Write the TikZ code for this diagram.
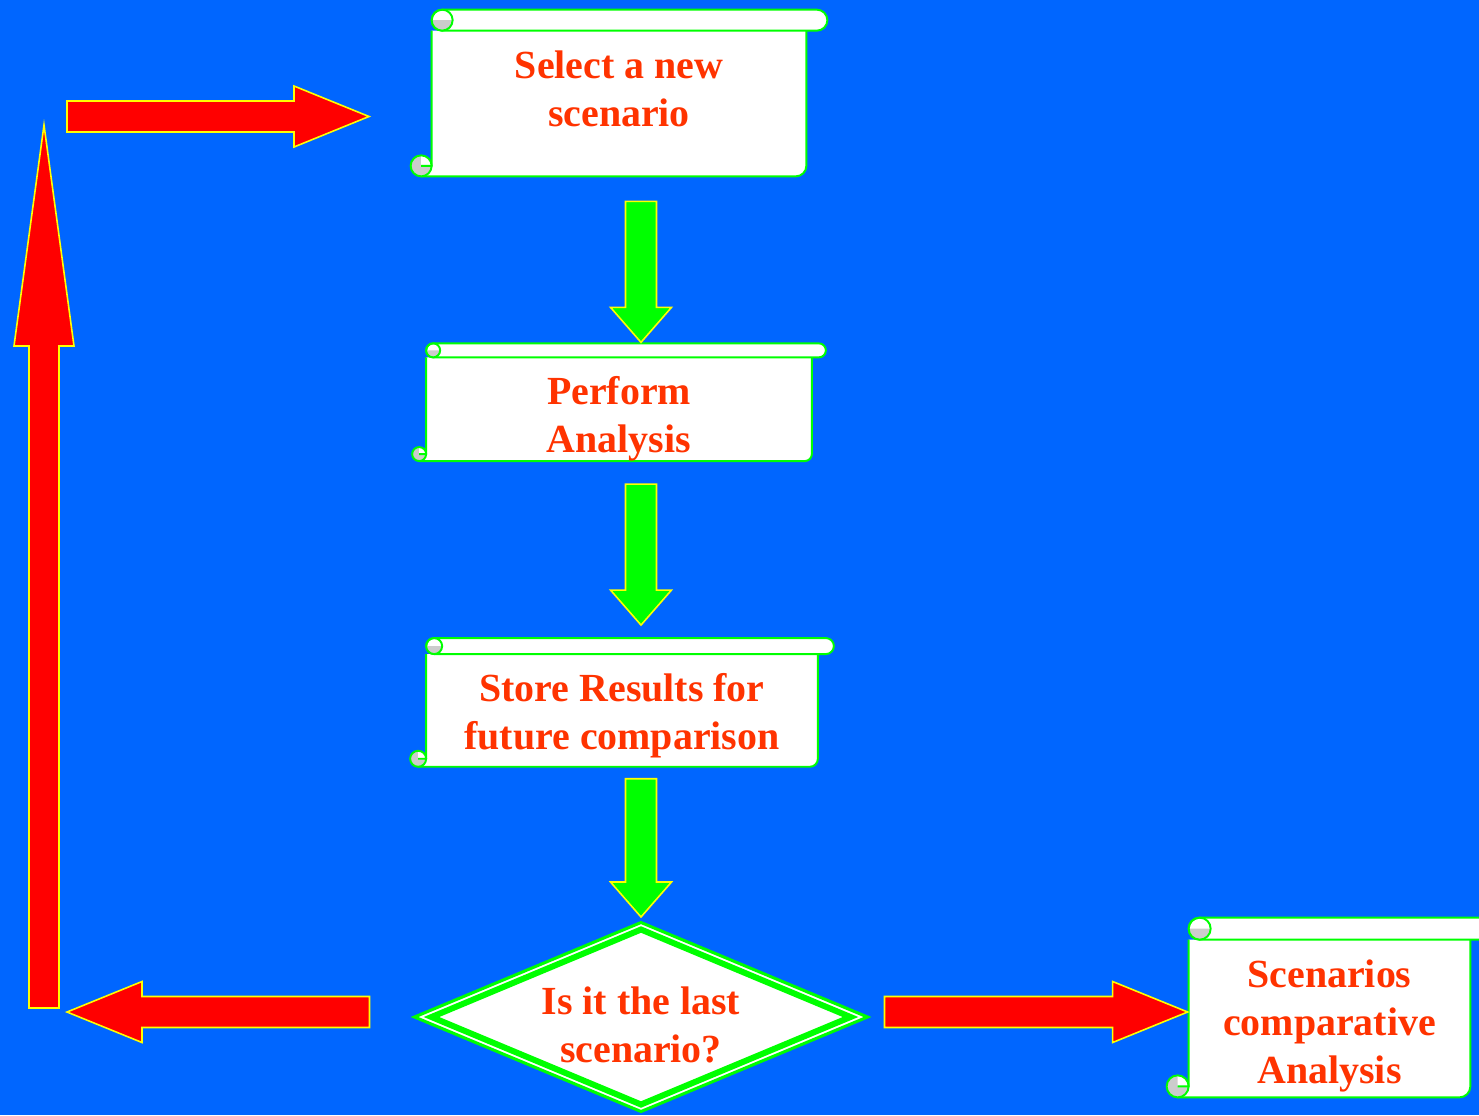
\documentclass[tikz,border=0pt]{standalone}
\usepackage{fontspec}
\setmainfont{Liberation Serif}
\usetikzlibrary{positioning,calc,shapes.geometric}
\definecolor{bgblue}{HTML}{0066FF}
\definecolor{scrollgreen}{HTML}{00FF00}
\definecolor{arrowred}{HTML}{FF0000}
\definecolor{edgeyellow}{HTML}{FFFF00}
\definecolor{textred}{HTML}{FF3300}
\definecolor{curlgray}{HTML}{CCCCCC}
\pgfdeclarelayer{bg}
\pgfdeclarelayer{frames}
\pgfsetlayers{bg,frames,main}
\tikzset{
  scroll/.style={draw=none, inner sep=0pt, align=center, text=textred,
    font=\fontsize{22.7pt}{27.2pt}\selectfont\bfseries},
  scrollline/.style={draw=scrollgreen, line width=1.1pt, fill=white, line join=round},
  decide/.style={diamond, aspect=2.4, draw=scrollgreen, line width=0.06cm, fill=white, inner sep=0pt,
    outer sep=0pt, minimum width=9.06cm, minimum height=3.78cm, align=center, text=textred,
    font=\fontsize{22.7pt}{27.2pt}\selectfont\bfseries},
  garr/.style={fill=scrollgreen, draw=edgeyellow, line width=0.9pt},
  rarr/.style={fill=arrowred, draw=edgeyellow, line width=0.9pt},
}
% block arrow: [style]{from}{to}{shaft half width}{head half width}{head length}
\newcommand{\blockarrow}[6][]{%
  \coordinate (bahead) at ($(#3)!#6!(#2)$);
  \draw[#1] ($(#2)!#4!90:(#3)$) -- ($(bahead)!#4!90:(#3)$) -- ($(bahead)!#5!90:(#3)$)
    -- (#3) -- ($(bahead)!#5!-90:(#3)$) -- ($(bahead)!#4!-90:(#3)$)
    -- ($(#2)!#4!-90:(#3)$) -- cycle;
}
% scroll outline round a body node: {node}{curl radius}
\newcommand{\scrollframe}[2]{%
  \begin{pgfonlayer}{frames}
    \draw[scrollline] let \p1=(#1.north west), \p2=(#1.south east) in
      (\x1,\y1) -- (\x1,\y2+#2) -- (\x1-#2,\y2) -- (\x2-#2,\y2)
      arc[start angle=-90, end angle=0, radius=#2] -- (\x2,\y1);
    \draw[scrollline] let \p1=(#1.north west), \p2=(#1.south east) in
      (\x1+#2,\y1) -- (\x2+#2,\y1) arc[start angle=-90, end angle=90, radius=#2]
      -- (\x1+#2,\y1+2*#2) arc[start angle=90, end angle=270, radius=#2] -- cycle;
    % top curl
    \fill[curlgray] let \p1=(#1.north west) in
      (\x1,\y1+#2) arc[start angle=180, end angle=360, radius=#2] -- cycle;
    \draw[scrollline, fill=none] let \p1=(#1.north west) in
      (\x1+#2,\y1+#2) circle[radius=#2];
    % bottom curl
    \fill[curlgray] let \p1=(#1.north west), \p2=(#1.south east) in
      (\x1-#2,\y2+#2) circle[radius=#2];
    \fill[white] let \p1=(#1.north west), \p2=(#1.south east) in
      (\x1-#2,\y2+#2) -- (\x1,\y2+#2) arc[start angle=0, end angle=90, radius=#2] -- cycle;
    \draw[scrollline, fill=none] let \p1=(#1.north west), \p2=(#1.south east) in
      (\x1-#2,\y2+#2) circle[radius=#2] (\x1-#2,\y2+#2) -- (\x1,\y2+#2);
  \end{pgfonlayer}
}

\begin{document}
\begin{tikzpicture}
  \useasboundingbox (0,0) rectangle (29.58,-22.3);
  \begin{pgfonlayer}{bg}
    \fill[bgblue] (0,0) rectangle (29.58,-22.3);
  \end{pgfonlayer}

  \node[scroll, minimum width=7.48cm, minimum height=2.9cm, text depth=0.6cm] (s1) at (12.38,-2.07) {Select a new\\scenario};
  \node[scroll, minimum width=7.7cm, minimum height=2.06cm, text height=1.74cm, text depth=0pt, below=3.62cm of s1] (s2) {Perform\\Analysis};
  \node[scroll, minimum width=7.82cm, minimum height=2.24cm, text height=1.57cm, text depth=0pt, below=3.86cm of s2, xshift=0.06cm] (s3) {Store Results for\\future comparison};
  \node[decide, text height=1.81cm, text depth=0pt] (dec) at (12.82,-20.34) {Is it the last\\scenario?};
  \node[scroll, minimum width=5.62cm, minimum height=3.14cm, text height=2.59cm, text depth=0pt] (s4) at (26.59,-20.37) {Scenarios\\comparative\\Analysis};

  \scrollframe{s1}{0.21cm}
  \scrollframe{s2}{0.14cm}
  \scrollframe{s3}{0.16cm}
  \scrollframe{s4}{0.22cm}
  \draw[scrollgreen, line width=0.12cm] ($(dec.west)+(0.34,0)$) -- ($(dec.north)+(0,-0.14)$)
    -- ($(dec.east)+(-0.34,0)$) -- ($(dec.south)+(0,0.14)$) -- cycle;

  % green steps down the column
  \coordinate (g1a) at ($(dec.north |- s1.south)+(0,-0.5)$);
  \coordinate (g1b) at ($(dec.north |- s2.north)+(0,0.3)$);
  \coordinate (g2a) at ($(dec.north |- s2.south)+(0,-0.46)$);
  \coordinate (g2b) at ($(dec.north |- s3.north)+(0,0.58)$);
  \coordinate (g3a) at ($(dec.north |- s3.south)+(0,-0.24)$);
  \coordinate (g3b) at ($(dec.north)+(0,0.11)$);
  \blockarrow[garr]{g1a}{g1b}{0.31cm}{0.61cm}{0.7cm}
  \blockarrow[garr]{g2a}{g2b}{0.31cm}{0.61cm}{0.7cm}
  \blockarrow[garr]{g3a}{g3b}{0.31cm}{0.61cm}{0.7cm}

  % red loop back and exit
  \coordinate (noa) at ($(dec.west)+(-0.9,0.1)$);
  \coordinate (nob) at (1.34,-20.24);
  \coordinate (upa) at (0.88,-20.16);
  \coordinate (upb) at (0.88,-2.5);
  \coordinate (topa) at (1.34,-2.33);
  \coordinate (topb) at (7.38,-2.33);
  \coordinate (yesa) at ($(dec.east)+(0.34,0.1)$);
  \coordinate (yesb) at ($(s4.west)+(-0.02,0.13)$);
  \blockarrow[rarr]{noa}{nob}{0.31cm}{0.61cm}{1.5cm}
  \blockarrow[rarr]{upa}{upb}{0.3cm}{0.6cm}{4.42cm}
  \blockarrow[rarr]{topa}{topb}{0.31cm}{0.61cm}{1.5cm}
  \blockarrow[rarr]{yesa}{yesb}{0.31cm}{0.61cm}{1.5cm}
\end{tikzpicture}
\end{document}
